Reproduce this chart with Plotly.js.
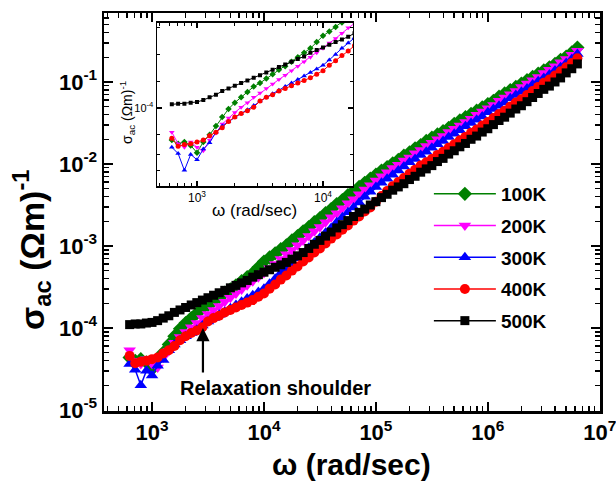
<!DOCTYPE html>
<html><head><meta charset="utf-8">
<script src="https://cdn.plot.ly/plotly-3.0.1.min.js"></script>
<style>html,body{margin:0;padding:0;background:#fff}#chart{width:616px;height:481px}</style>
</head><body><div id="chart"></div>
<script>
// angular frequency (rad/sec)
const omega = [631,708,794,891,1000,1122,1259,1413,1585,1778,1995,2239,2512,2818,3162,3548,3981,4467,5012,5623,6310,7079,7943,8913,
10000,11220,12590,14130,15850,17780,19950,22390,25120,28180,31620,35480,39810,44670,50120,56230,63100,70790,79430,89130,
100000,112200,125900,141300,158500,177800,199500,223900,251200,281800,316200,354800,398100,446700,501200,562300,631000,707900,794300,891300,
1000000,1122000,1259000,1413000,1585000,1778000,1995000,2239000,2512000,2818000,3162000,3548000,3981000,4467000,5012000,5623000,6310000];

const sigma100K = [4.37e-5,3.98e-5,4.17e-5,3.80e-5,3.16e-5,4.17e-5,5.01e-5,6.31e-5,7.94e-5,9.77e-5,1.15e-4,1.32e-4,1.51e-4,1.74e-4,1.91e-4,2.14e-4,2.40e-4,2.69e-4,2.95e-4,3.31e-4,3.72e-4,4.17e-4,4.68e-4,5.50e-4,
6.46e-4,7.24e-4,8.13e-4,9.12e-4,1.02e-3,1.17e-3,1.32e-3,1.51e-3,1.70e-3,1.95e-3,2.19e-3,2.51e-3,2.82e-3,3.24e-3,3.63e-3,4.17e-3,4.68e-3,5.25e-3,5.89e-3,6.61e-3,
7.41e-3,8.32e-3,9.12e-3,1.02e-2,1.12e-2,1.26e-2,1.38e-2,1.55e-2,1.70e-2,1.91e-2,2.09e-2,2.29e-2,2.51e-2,2.75e-2,3.09e-2,3.39e-2,3.72e-2,4.07e-2,4.47e-2,4.90e-2,
5.37e-2,5.89e-2,6.61e-2,7.24e-2,7.94e-2,8.71e-2,9.55e-2,0.105,0.115,0.126,0.138,0.151,0.166,0.186,0.204,0.229,0.263];

const sigma200K = [5.37e-5,3.98e-5,3.63e-5,4.17e-5,3.63e-5,3.31e-5,4.37e-5,5.25e-5,6.61e-5,7.76e-5,8.91e-5,1.02e-4,1.15e-4,1.32e-4,1.48e-4,1.66e-4,1.86e-4,2.09e-4,2.34e-4,2.63e-4,2.95e-4,3.31e-4,3.72e-4,4.17e-4,
4.68e-4,5.37e-4,6.03e-4,6.92e-4,7.94e-4,8.91e-4,1.02e-3,1.17e-3,1.32e-3,1.51e-3,1.70e-3,1.95e-3,2.24e-3,2.51e-3,2.88e-3,3.31e-3,3.72e-3,4.27e-3,4.90e-3,5.50e-3,
6.31e-3,7.08e-3,7.94e-3,8.91e-3,9.77e-3,1.10e-2,1.20e-2,1.35e-2,1.48e-2,1.66e-2,1.82e-2,2.00e-2,2.19e-2,2.45e-2,2.69e-2,2.95e-2,3.24e-2,3.55e-2,3.98e-2,4.37e-2,
4.79e-2,5.25e-2,5.89e-2,6.46e-2,7.08e-2,7.76e-2,8.71e-2,9.55e-2,0.105,0.115,0.129,0.141,0.155,0.174,0.191,0.214,0.240];

const sigma300K = [3.63e-5,3.09e-5,2.00e-5,3.02e-5,2.63e-5,3.47e-5,4.07e-5,5.37e-5,6.31e-5,7.08e-5,7.94e-5,8.71e-5,9.55e-5,1.07e-4,1.20e-4,1.32e-4,1.45e-4,1.58e-4,1.74e-4,1.91e-4,2.09e-4,2.29e-4,2.51e-4,2.75e-4,
3.02e-4,3.47e-4,3.98e-4,4.68e-4,5.37e-4,6.17e-4,7.08e-4,8.13e-4,9.55e-4,1.10e-3,1.26e-3,1.45e-3,1.66e-3,1.95e-3,2.24e-3,2.57e-3,2.95e-3,3.39e-3,3.98e-3,4.57e-3,
5.25e-3,5.89e-3,6.61e-3,7.41e-3,8.32e-3,9.33e-3,1.05e-2,1.15e-2,1.29e-2,1.41e-2,1.58e-2,1.74e-2,1.91e-2,2.14e-2,2.34e-2,2.57e-2,2.88e-2,3.16e-2,3.47e-2,3.80e-2,
4.27e-2,4.68e-2,5.13e-2,5.62e-2,6.31e-2,6.92e-2,7.59e-2,8.32e-2,9.33e-2,0.102,0.112,0.123,0.138,0.151,0.170,0.191,0.219];

const sigma400K = [4.57e-5,3.72e-5,3.89e-5,3.98e-5,4.17e-5,4.37e-5,4.90e-5,5.37e-5,6.03e-5,7.08e-5,7.94e-5,8.71e-5,9.33e-5,1.02e-4,1.20e-4,1.32e-4,1.41e-4,1.55e-4,1.66e-4,1.78e-4,1.91e-4,2.04e-4,2.19e-4,2.40e-4,
2.63e-4,3.02e-4,3.39e-4,3.89e-4,4.37e-4,5.01e-4,5.62e-4,6.46e-4,7.24e-4,8.32e-4,9.33e-4,1.07e-3,1.23e-3,1.38e-3,1.58e-3,1.78e-3,2.04e-3,2.29e-3,2.63e-3,2.95e-3,
3.47e-3,4.07e-3,4.68e-3,5.37e-3,6.03e-3,6.76e-3,7.59e-3,8.51e-3,9.55e-3,1.05e-2,1.15e-2,1.29e-2,1.41e-2,1.58e-2,1.74e-2,1.95e-2,2.14e-2,2.40e-2,2.63e-2,2.95e-2,
3.24e-2,3.63e-2,4.07e-2,4.47e-2,5.01e-2,5.62e-2,6.17e-2,6.92e-2,7.76e-2,8.71e-2,9.77e-2,0.107,0.120,0.135,0.151,0.170,0.195];

const sigma500K = [1.10e-4,1.12e-4,1.12e-4,1.15e-4,1.17e-4,1.23e-4,1.32e-4,1.41e-4,1.55e-4,1.66e-4,1.78e-4,1.91e-4,2.04e-4,2.19e-4,2.34e-4,2.51e-4,2.69e-4,2.88e-4,3.09e-4,3.31e-4,3.55e-4,3.80e-4,4.17e-4,4.47e-4,
4.79e-4,5.13e-4,5.50e-4,5.89e-4,6.31e-4,6.92e-4,7.59e-4,8.32e-4,9.33e-4,1.05e-3,1.17e-3,1.32e-3,1.48e-3,1.66e-3,1.82e-3,2.04e-3,2.29e-3,2.57e-3,2.82e-3,3.16e-3,
3.47e-3,3.89e-3,4.27e-3,4.79e-3,5.25e-3,5.75e-3,6.46e-3,7.08e-3,7.94e-3,8.71e-3,9.55e-3,1.07e-2,1.17e-2,1.32e-2,1.45e-2,1.62e-2,1.78e-2,2.00e-2,2.19e-2,2.45e-2,
2.69e-2,3.02e-2,3.39e-2,3.72e-2,4.17e-2,4.68e-2,5.13e-2,5.75e-2,6.46e-2,7.24e-2,8.13e-2,8.91e-2,0.100,0.112,0.129,0.145,0.166];

const seriesNames = ['100K','200K','300K','400K','500K'];
const seriesData = [sigma100K, sigma200K, sigma300K, sigma400K, sigma500K];
const colors = ['#008000','#ff00ff','#0000ff','#ff0000','#000000'];
const symbols = ['diamond','triangle-down','triangle-up','circle','square'];
const mainSizes = [11,11,11,10,9];
const insetSizes = [5,5,5,5,4];

const mainTicksX = [1e3,1e4,1e5,1e6,1e7];
const mainTickTextX = ['10<sup>3</sup>','10<sup>4</sup>','10<sup>5</sup>','10<sup>6</sup>','10<sup>7</sup>'];
const mainTicksY = [1e-5,1e-4,1e-3,1e-2,1e-1];
const mainTickTextY = ['10<sup>-5</sup>','10<sup>-4</sup>','10<sup>-3</sup>','10<sup>-2</sup>','10<sup>-1</sup>'];
const insetTicksX = [1e3,1e4];
const insetTickTextX = ['10<sup>3</sup>','10<sup>4</sup>'];
const insetTicksY = [1e-4];
const insetTickTextY = ['10<sup>-4</sup>'];
const insetMinorY = [2e-5,3e-5,5e-5,2e-4,4e-4,8e-4];

const FONT = 'Liberation Sans, Arial, Helvetica, sans-serif';
const traces = [];
seriesData.forEach((s,i)=>{
  traces.push({x:omega,y:s,type:'scatter',mode:'lines+markers',name:seriesNames[i],legendgroup:'g'+i,
    xaxis:'x',yaxis:'y',line:{color:colors[i],width:1.5},
    marker:{symbol:symbols[i],size:mainSizes[i],color:colors[i],line:{width:0}}});
});
seriesData.forEach((s,i)=>{
  traces.push({x:omega,y:s,type:'scatter',mode:'lines+markers',name:seriesNames[i],showlegend:false,legendgroup:'g'+i,
    xaxis:'x2',yaxis:'y2',line:{color:colors[i],width:1},
    marker:{symbol:symbols[i],size:insetSizes[i],color:colors[i],line:{width:0}}});
});

const layout = {
  width:616,height:481,
  margin:{l:104,r:16,t:13,b:70,pad:0},
  paper_bgcolor:'#fff',plot_bgcolor:'#fff',
  font:{family:FONT,color:'#000'},
  showlegend:true,
  legend:{x:0.655,y:0.593,xanchor:'left',yanchor:'top',bgcolor:'rgba(0,0,0,0)',
    font:{family:FONT,size:19,weight:'bold',color:'#000'},itemwidth:62,tracegroupgap:4},
  xaxis:{type:'log',range:[2.571,7.002],domain:[0,1],anchor:'y',
    tickmode:'array',tickvals:mainTicksX,ticktext:mainTickTextX,ticklabeloverflow:'allow',
    ticks:'inside',ticklen:9,tickwidth:2,tickcolor:'#000',
    showline:true,linewidth:2.5,linecolor:'#000',mirror:'ticks',showgrid:false,zeroline:false,
    tickfont:{family:FONT,size:22,weight:'bold',color:'#000'},
    minor:{ticks:'inside',ticklen:5,tickwidth:1.5,tickcolor:'#000',dtick:'D1',showgrid:false}},
  yaxis:{type:'log',range:[-5.012,-0.159],domain:[0,1],anchor:'x',
    tickmode:'array',tickvals:mainTicksY,ticktext:mainTickTextY,
    ticks:'inside',ticklen:9,tickwidth:2,tickcolor:'#000',
    showline:true,linewidth:2.5,linecolor:'#000',mirror:'ticks',showgrid:false,zeroline:false,
    tickfont:{family:FONT,size:22,weight:'bold',color:'#000'},
    minor:{ticks:'inside',ticklen:5,tickwidth:1.5,tickcolor:'#000',dtick:'D1',showgrid:false}},
  xaxis2:{type:'log',range:[2.683,4.238],domain:[0.107,0.502],anchor:'y2',
    tickmode:'array',tickvals:insetTicksX,ticktext:insetTickTextX,
    ticks:'inside',ticklen:5,tickwidth:1.2,tickcolor:'#000',
    showline:true,linewidth:1.5,linecolor:'#000',mirror:'ticks',showgrid:false,zeroline:false,
    tickfont:{family:FONT,size:12,color:'#000'},
    minor:{ticks:'inside',ticklen:3,tickwidth:1,tickcolor:'#000',dtick:'D1',showgrid:false}},
  yaxis2:{type:'log',range:[-4.876,-3.045],domain:[0.565,0.975],anchor:'x2',
    tickmode:'array',tickvals:insetTicksY,ticktext:insetTickTextY,
    ticks:'inside',ticklen:5,tickwidth:1.2,tickcolor:'#000',
    showline:true,linewidth:1.5,linecolor:'#000',mirror:'ticks',showgrid:false,zeroline:false,
    tickfont:{family:FONT,size:11,color:'#000'},
    minor:{ticks:'inside',ticklen:3,tickwidth:1,tickcolor:'#000',tickmode:'array',tickvals:insetMinorY,showgrid:false}},
  annotations:[
    {xref:'paper',yref:'paper',x:0.499,y:-0.134,xanchor:'center',yanchor:'middle',showarrow:false,
     text:'ω (rad/sec)',font:{family:FONT,size:30,weight:'bold',color:'#000'}},
    {xref:'paper',yref:'paper',x:-0.147,y:0.405,xanchor:'center',yanchor:'middle',showarrow:false,textangle:-90,
     text:'σ<sub>ac</sub> (Ωm)<sup>-1</sup>',font:{family:FONT,size:34,weight:'bold',color:'#000'}},
    {xref:'paper',yref:'paper',x:0.304,y:0.503,xanchor:'center',yanchor:'middle',showarrow:false,
     text:'ω (rad/sec)',font:{family:FONT,size:17,color:'#000'}},
    {xref:'paper',yref:'paper',x:0.046,y:0.751,xanchor:'center',yanchor:'middle',showarrow:false,textangle:-90,
     text:'σ<sub>ac</sub> (Ωm)<sup>-1</sup>',font:{family:FONT,size:14,color:'#000'}},
    {xref:'paper',yref:'paper',x:0.345,y:0.058,xanchor:'center',yanchor:'middle',showarrow:false,
     text:'Relaxation shoulder',font:{family:FONT,size:20,weight:'bold',color:'#000'}},
    {xref:'x',yref:'y',x:Math.log10(2850),y:Math.log10(1.0e-4),text:'',showarrow:true,axref:'pixel',ayref:'pixel',
     ax:0,ay:46,arrowhead:2,arrowsize:1.2,arrowwidth:2.2,arrowcolor:'#000'}
  ]
};
Plotly.newPlot('chart',traces,layout,{displayModeBar:false,staticPlot:true});
</script></body></html>
